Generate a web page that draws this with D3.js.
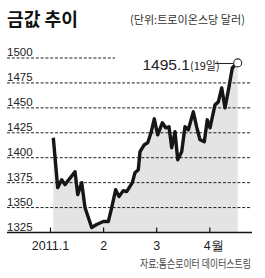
<!DOCTYPE html>
<html>
<head>
<meta charset="utf-8">
<script src="https://cdn.jsdelivr.net/npm/d3@7/dist/d3.min.js"></script>
<style>
  html, body { margin: 0; padding: 0; background: #fff; }
  svg { display: block; }
  .num { font-family: "Liberation Sans Narrow", "Arial Narrow", "Liberation Sans", sans-serif; }
  .kr { font-family: "Noto Sans CJK KR", "Noto Sans", sans-serif; }
</style>
</head>
<body>
<svg id="chart" width="265" height="278"></svg>
<script>
// ---- data ----
const title = "금값 추이";
const unitLabel = "(단위:트로이온스당 달러)";
const sourceLabel = "자료:톰슨로이터 데이터스트림";
// x position in months since 2011-01-01 (0 = Jan, 1 = Feb, ...)
const monthPos = [0.062, 0.145, 0.220, 0.282, 0.471, 0.522, 0.597, 0.659, 0.785, 0.879,
                  1.004, 1.098, 1.162, 1.237, 1.299, 1.380, 1.444, 1.550, 1.601, 1.663,
                  1.695, 1.776, 1.840, 1.902, 1.964, 2.028, 2.115, 2.179, 2.241, 2.292,
                  2.354, 2.405, 2.480, 2.542, 2.605, 2.699, 2.762, 2.825, 2.906, 2.962,
                  3.013, 3.107, 3.170, 3.234, 3.296, 3.371, 3.433, 3.516, 3.535];
const prices = [1420, 1370, 1378, 1373, 1386, 1363, 1375, 1350, 1330, 1333,
                1336, 1336, 1350, 1368, 1361, 1367, 1366, 1375, 1385, 1388,
                1406, 1413, 1415, 1425, 1439, 1423, 1435, 1430, 1431, 1410,
                1426, 1398, 1406, 1431, 1428, 1446, 1431, 1418, 1416, 1438,
                1430, 1453, 1456, 1470, 1450, 1471, 1490, 1494.7, 1495.1];
const yTicks = [1325, 1350, 1375, 1400, 1425, 1450, 1475, 1500];
const xTickPos = [0, 1, 2, 3];
const xTickLabels = ["2011.1", "2", "3", "4월"];
const lastValueLabel = "1495.1";
const lastDayLabel = "(19일)";

const data = monthPos.map((m, i) => ({ m, v: prices[i] }));

// ---- drawing ----
const svg = d3.select("#chart");
const x = d3.scaleLinear().domain([0, 4]).range([50, 262.4]);
const y = d3.scaleLinear().domain([1325, 1500]).range([232.5, 58]);

// helper: text compressed horizontally to a given width via transform
function fitText(parent, str, px, py, width, attrs) {
  const g = parent.append("g").attr("transform", `translate(${px},${py})`);
  const t = g.append("text").attr("x", 0).attr("y", 0).text(str);
  Object.entries(attrs).forEach(([k, v]) => t.attr(k, v));
  const w = t.node().getComputedTextLength();
  const s = w > 0 ? width / w : 1;
  t.attr("transform", `scale(${s},1)`);
  return t;
}

// title
fitText(svg, title, 7, 26, 71, { class: "kr", "font-size": 18, "font-weight": 700, fill: "#111" });
fitText(svg, unitLabel, 130, 24, 115, { class: "kr", "font-size": 11.5, fill: "#333" });

// area
const area = d3.area().x(d => x(d.m)).y0(y(1325)).y1(d => y(d.v));
svg.append("path").datum(data).attr("d", area).attr("fill", "#e4e4e4");

// gridlines and y labels
yTicks.forEach(t => {
  if (t !== 1325) {
    svg.append("line")
      .attr("x1", 7).attr("x2", t === 1500 ? 115 : 250)
      .attr("y1", y(t)).attr("y2", y(t))
      .attr("stroke", "#222").attr("stroke-width", 1)
      .attr("stroke-dasharray", "3,1.8");
  }
  svg.append("text").attr("class", "num")
    .attr("x", 7).attr("y", y(t) - 2)
    .attr("font-size", 11.5).attr("fill", "#222")
    .text(t);
});

// x axis baseline + ticks
svg.append("line").attr("x1", 7).attr("x2", 252)
  .attr("y1", y(1325)).attr("y2", y(1325))
  .attr("stroke", "#111").attr("stroke-width", 1.4);

const xAxis = d3.axisBottom(x).tickValues(xTickPos)
  .tickSizeInner(-5).tickSizeOuter(0)
  .tickFormat((d, i) => xTickLabels[i]);
const gx = svg.append("g").attr("transform", `translate(0,${y(1325)})`).call(xAxis);
gx.select(".domain").remove();
gx.selectAll(".tick line").attr("stroke", "#111").attr("stroke-width", 1.2);
gx.selectAll(".tick text")
  .attr("class", "num").attr("font-size", 12.5).attr("fill", "#222")
  .attr("y", 17).attr("dy", 0)
  .attr("dx", (d, i) => i === 3 ? 4 : 0);
gx.attr("font-family", null).attr("font-size", null);

// price line
const line = d3.line().x(d => x(d.m)).y(d => y(d.v));
svg.append("path").datum(data).attr("d", line)
  .attr("fill", "none").attr("stroke", "#161616")
  .attr("stroke-width", 3.4).attr("stroke-linejoin", "round").attr("stroke-linecap", "butt");

// end marker + label
const last = data[data.length - 1];
svg.append("line")
  .attr("x1", 215).attr("x2", x(last.m) - 4)
  .attr("y1", y(last.v) + 0.6).attr("y2", y(last.v) + 0.6)
  .attr("stroke", "#222").attr("stroke-width", 1);
svg.append("circle").attr("cx", x(last.m)).attr("cy", y(last.v)).attr("r", 4)
  .attr("fill", "#fff").attr("stroke", "#333").attr("stroke-width", 1.1);
const lab = svg.append("text").attr("x", 142.5).attr("y", 69.5).attr("fill", "#222");
lab.append("tspan").attr("class", "num").attr("font-size", 15.5).text(lastValueLabel);
lab.append("tspan").attr("class", "kr").attr("font-size", 11).text(lastDayLabel);

// source
fitText(svg, sourceLabel, 140, 268, 111, { class: "kr", "font-size": 11, fill: "#444" });
</script>
</body>
</html>
